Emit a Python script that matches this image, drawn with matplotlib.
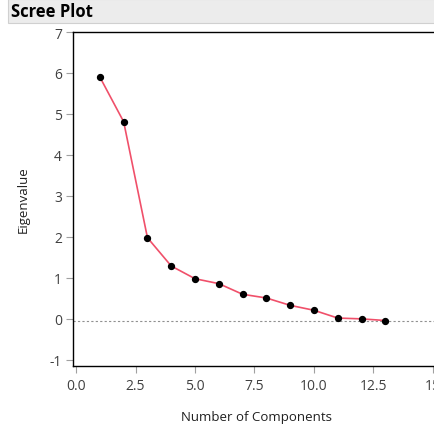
import matplotlib
matplotlib.use('Agg')
import matplotlib.pyplot as plt
from matplotlib.patches import Rectangle

components = [1, 2, 3, 4, 5, 6, 7, 8, 9, 10, 11, 12, 13]
eigenvalues = [5.90, 4.81, 1.98, 1.29, 0.98, 0.86, 0.60, 0.51, 0.33, 0.21, 0.02, 0.0, -0.04]
ref_line = -0.04
x_ticks = [0, 2.5, 5, 7.5, 10, 12.5, 15]
x_ticklabels = ['0.0', '2.5', '5.0', '7.5', '10.0', '12.5', '15']
y_ticks = [-1, 0, 1, 2, 3, 4, 5, 6, 7]

plt.rcParams['font.family'] = ['Open Sans', 'DejaVu Sans']
plt.rcParams['axes.unicode_minus'] = False

fig = plt.figure(figsize=(4.35, 4.27), dpi=100)

# title bar
fig.patches.append(Rectangle((8 / 435, 1 - 24 / 427), 1, 24 / 427, transform=fig.transFigure,
                             facecolor='#ececec', edgecolor='#d0d0d0', linewidth=0.8))
fig.text(11 / 435, 1 - 12 / 427, 'Scree Plot', fontsize=12, fontweight='bold',
         va='center', ha='left', color='black')

ax = fig.add_axes([73 / 435, 60 / 427, 367 / 435, 334 / 427])
ax.plot(components, eigenvalues, color='#f0506a', linewidth=1.2, zorder=2)
ax.scatter(components, eigenvalues, color='black', s=18, zorder=3)
ax.axhline(ref_line, color='#909090', linestyle=(0, (2, 2)), linewidth=0.8, zorder=1)

ax.set_xlim(-0.13, 15.3)
ax.set_ylim(-1.15, 7)
ax.set_xticks(x_ticks)
ax.set_xticklabels(x_ticklabels)
ax.set_yticks(y_ticks)

for s in ['left', 'bottom', 'top']:
    ax.spines[s].set_color('black')
    ax.spines[s].set_linewidth(1.0)
ax.spines['right'].set_visible(False)

ax.tick_params(axis='both', colors='#a0a0a0', labelcolor='#404040', labelsize=10,
               length=5, width=0.8)
ax.tick_params(axis='x', pad=4)
ax.tick_params(axis='y', pad=3)

ax.set_xlabel('Number of Components', fontsize=9.5, color='#202020', labelpad=12)
ax.set_ylabel('Eigenvalue', fontsize=9.5, color='#202020', labelpad=14)

fig.savefig('out.png', dpi=100)
